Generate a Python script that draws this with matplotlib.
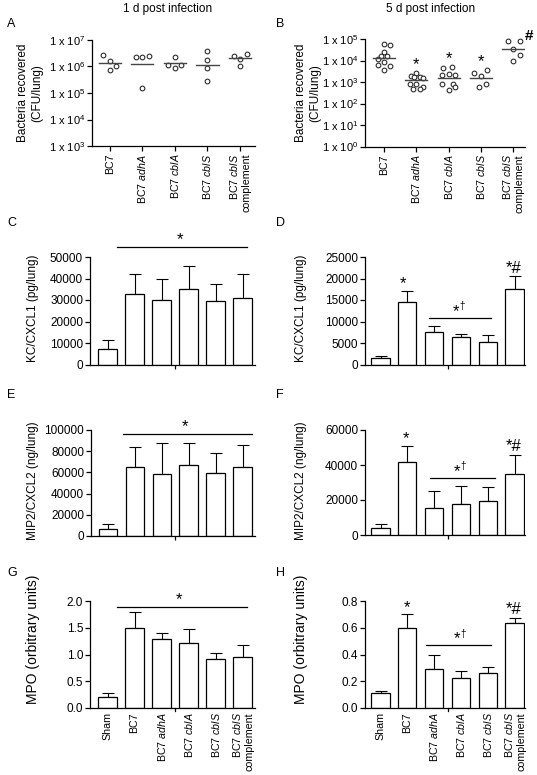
import matplotlib
matplotlib.use("Agg")
import matplotlib.pyplot as plt
import numpy as np

plt.rcParams['font.family'] = ['Liberation Sans', 'DejaVu Sans']
plt.rcParams['mathtext.fontset'] = 'custom'
plt.rcParams['mathtext.rm'] = 'Liberation Sans'
plt.rcParams['mathtext.it'] = 'Liberation Sans:italic'
plt.rcParams['mathtext.bf'] = 'Liberation Sans:bold'

# ---------------- data ----------------
strains = ["BC7", "BC7 $\\mathit{adhA}$", "BC7 $\\mathit{cblA}$", "BC7 $\\mathit{cblS}$",
           "BC7 $\\mathit{cblS}$\ncomplement"]
groups = ["Sham"] + strains

# Panel A: CFU/lung, 1 d
cfu1_bc7 = [2.7e6, 1.65e6, 7.4e5, 1.05e6]
cfu1_adhA = [2.3e6, 2.2e6, 2.6e6, 1.5e5]
cfu1_cblA = [1.17e6, 2.2e6, 8.5e5, 1.17e6]
cfu1_cblS = [3.85e6, 1.7e6, 8.5e5, 2.9e5]
cfu1_comp = [2.6e6, 1.96e6, 3.0e6, 1.05e6]
cfu1_mean = [1.35e6, 1.2e6, 1.3e6, 1.17e6, 2.1e6]

# Panel B: CFU/lung, 5 d
cfu5_bc7 = [5.9e4, 5.1e4, 2.6e4, 1.58e4, 1.7e4, 1.2e4, 8.3e3, 6.5e3, 5.5e3, 3.8e3]
cfu5_adhA = [2.6e3, 1.85e3, 1.7e3, 1.7e3, 1.6e3, 830, 830, 575, 490, 490]
cfu5_cblA = [4.4e3, 4.9e3, 2.2e3, 2.4e3, 2.2e3, 830, 830, 410, 580]
cfu5_cblS = [2.7e3, 2.0e3, 3.8e3, 580, 780]
cfu5_comp = [7.8e4, 8.5e4, 3.5e4, 1.8e4, 1.0e4]
cfu5_mean = [1.33e4, 1.3e3, 1.6e3, 1.6e3, 3.25e4]

# Panel C / D: KC/CXCL1 (pg/lung)
kc1_mean = [7000, 33000, 30000, 35000, 29500, 31000]
kc1_err = [4500, 9000, 10000, 11000, 8000, 11000]
kc5_mean = [1500, 14500, 7500, 6300, 5300, 17500]
kc5_err = [500, 2500, 1500, 900, 1500, 3000]

# Panel E / F: MIP2/CXCL2 (ng/lung)
mip1_mean = [7000, 65000, 58500, 67000, 59500, 65000]
mip1_err = [4000, 19000, 29500, 21000, 18500, 21000]
mip5_mean = [4000, 42000, 15500, 17500, 19500, 35000]
mip5_err = [2500, 9000, 9500, 10500, 8000, 11000]

# Panel G / H: MPO (arbitrary units)
mpo1_mean = [0.21, 1.49, 1.29, 1.22, 0.92, 0.96]
mpo1_err = [0.07, 0.31, 0.11, 0.26, 0.10, 0.21]
mpo5_mean = [0.11, 0.595, 0.295, 0.225, 0.258, 0.635]
mpo5_err = [0.015, 0.105, 0.105, 0.055, 0.047, 0.035]

# ---------------- layout ----------------
W, H = 537, 775
fig = plt.figure(figsize=(W / 100, H / 100), dpi=100)

FS = 8.5
XFS = 7.7


def axpx(left, top, right, bottom):
    return fig.add_axes([left / W, 1 - bottom / H, (right - left) / W, (bottom - top) / H])


def ftext(x, y, s, **kw):
    fig.text(x / W, 1 - y / H, s, **kw)


def style(ax, ylab_fs=FS):
    for s in ("top", "right"):
        ax.spines[s].set_visible(False)
    for s in ("left", "bottom"):
        ax.spines[s].set_linewidth(0.9)
    ax.tick_params(axis="y", direction="out", length=3.5, width=0.9, labelsize=ylab_fs, pad=1.5)


def scatter_panel(ax, data, means, ylim, xlim, offsets_list):
    style(ax, 8)
    ax.set_yscale("log")
    ax.set_ylim(*ylim)
    ax.set_xlim(*xlim)
    for i, (vals, offs) in enumerate(zip(data, offsets_list)):
        xs = [i + o for o in offs]
        ax.plot(xs, vals, "o", ms=3.4, mfc="white", mec="#222222", mew=0.75, clip_on=False)
        ax.plot([i - 0.34, i + 0.34], [means[i], means[i]], color="#444444", lw=1.0)
    decs = np.arange(int(np.log10(ylim[0])), int(np.log10(ylim[1])) + 1)
    ax.set_yticks([10.0 ** d for d in decs])
    ax.set_yticklabels(["1 x 10$^{%d}$" % d for d in decs])
    ax.yaxis.set_minor_locator(matplotlib.ticker.NullLocator())
    ax.set_xticks(range(5))
    ax.set_xticklabels(strains, rotation=90, fontsize=XFS, va="top", ha="center",
                       multialignment="right")
    ax.tick_params(axis="x", direction="out", length=3.5, width=0.9, pad=2)


def bar_panel(ax, means, errs, ylim, yticks, xlim, labels=False):
    style(ax)
    x = np.arange(6)
    ax.bar(x, means, width=0.68, color="white", edgecolor="black", linewidth=0.9, zorder=2)
    ax.errorbar(x, means, yerr=[np.zeros(6), errs], fmt="none", ecolor="black",
                elinewidth=0.8, capsize=4, capthick=0.8, zorder=1)
    ax.set_ylim(*ylim)
    ax.set_xlim(*xlim)
    ax.set_yticks(yticks)
    if labels:
        ax.set_xticks(x)
        ax.set_xticklabels(groups, rotation=90, fontsize=XFS, va="top", ha="center",
                           multialignment="right")
        ax.tick_params(axis="x", length=0, pad=3)
        ax.plot([2.5, 2.5], [0, -0.025 * (ylim[1] - ylim[0])], color="black", lw=0.9,
                clip_on=False)
    else:
        ax.set_xticks([2.5])
        ax.set_xticklabels([""])
        ax.tick_params(axis="x", direction="out", length=3, width=0.9)


def sigline(ax, x0, x1, y):
    ax.plot([x0, x1], [y, y], color="black", lw=0.9, clip_on=False)


def star(ax, x, y, s="*", dagger=False):
    ax.text(x, y, s, ha="center", va="center", fontsize=12, clip_on=False)
    if dagger:
        ax.annotate("\u2020", (x, y), xytext=(4.5, 4), textcoords="offset points",
                    ha="center", va="center", fontsize=7)


# titles
ftext(168, 9, "1 d post infection", ha="center", va="center", fontsize=8.5)
ftext(431, 9, "5 d post infection", ha="center", va="center", fontsize=8.5)

# panel letters
for lab, x, y in [("A", 7, 24), ("B", 276, 24), ("C", 7, 223), ("D", 276, 223),
                  ("E", 7, 395), ("F", 276, 395), ("G", 7, 573), ("H", 276, 573)]:
    ftext(x, y, lab, ha="left", va="center", fontsize=9)

# ---- A ----
axA = axpx(92, 40, 255, 146)
offA = [[-0.2, 0, 0, 0.2], [-0.2, 0, 0.2, 0], [-0.2, 0, 0, 0.2], [0, 0, 0, 0], [-0.2, 0, 0.2, 0]]
scatter_panel(axA, [cfu1_bc7, cfu1_adhA, cfu1_cblA, cfu1_cblS, cfu1_comp], cfu1_mean,
              (1e3, 1e7), (-0.55, 4.46), offA)
ftext(30, 93, "Bacteria recovered\n(CFU/lung)", rotation=90, ha="center", va="center",
      fontsize=FS, multialignment="center")

# ---- B ----
axB = axpx(365, 39, 525, 146.5)
offB = [[0, 0.2, 0, -0.1, 0.1, -0.2, 0, -0.2, 0.2, 0],
        [0, -0.17, -0.06, 0.1, 0.2, -0.2, 0, 0.2, -0.1, 0.1],
        [-0.18, 0.12, -0.2, 0, 0.2, -0.2, 0.15, 0, 0.2],
        [-0.2, 0, 0.18, -0.05, 0.15],
        [-0.15, 0.2, 0, 0.2, 0]]
scatter_panel(axB, [cfu5_bc7, cfu5_adhA, cfu5_cblA, cfu5_cblS, cfu5_comp], cfu5_mean,
              (1, 1e5), (-0.59, 4.37), offB)
ftext(308, 93, "Bacteria recovered\n(CFU/lung)", rotation=90, ha="center", va="center",
      fontsize=FS, multialignment="center")
for i, yv in [(1, 6.5e3), (2, 1.25e4), (3, 9e3)]:
    axB.text(i, yv, "*", ha="center", va="center", fontsize=12)
axB.text(4.5, 1.35e5, "#", ha="center", va="center", fontsize=11, fontweight="bold",
         clip_on=False)

# ---- C ----
axC = axpx(90, 257, 255, 364.5)
bar_panel(axC, kc1_mean, kc1_err, (0, 50000), [0, 10000, 20000, 30000, 40000, 50000],
          (-0.65, 5.46))
sigline(axC, 0.35, 5.17, 54650)
star(axC, 2.7, 58000)
ftext(33, 308, "KC/CXCL1 (pg/lung)", rotation=90, ha="center", va="center", fontsize=FS)

# ---- D ----
axD = axpx(365, 257, 525, 364.5)
bar_panel(axD, kc5_mean, kc5_err, (0, 25000), [0, 5000, 10000, 15000, 20000, 25000],
          (-0.58, 5.39))
sigline(axD, 1.81, 4.12, 10800)
star(axD, 2.82, 12400, dagger=True)
star(axD, 0.85, 18900)
star(axD, 4.95, 22400, s="*#")
ftext(301, 308, "KC/CXCL1 (pg/lung)", rotation=90, ha="center", va="center", fontsize=FS)

# ---- E ----
axE = axpx(91, 430, 255, 536)
bar_panel(axE, mip1_mean, mip1_err, (0, 100000), [0, 20000, 40000, 60000, 80000, 100000],
          (-0.62, 5.46))
sigline(axE, 0.57, 5.35, 96200)
star(axE, 2.87, 103000)
ftext(33, 481, "MIP2/CXCL2 (ng/lung)", rotation=90, ha="center", va="center", fontsize=FS)

# ---- F ----
axF = axpx(365, 430, 525, 535)
bar_panel(axF, mip5_mean, mip5_err, (0, 60000), [0, 20000, 40000, 60000], (-0.58, 5.39))
sigline(axF, 1.85, 4.27, 32570)
star(axF, 2.85, 36000, dagger=True)
star(axF, 0.95, 55000)
star(axF, 4.97, 50800, s="*#")
ftext(301, 481, "MIP2/CXCL2 (ng/lung)", rotation=90, ha="center", va="center", fontsize=FS)

# ---- G ----
axG = axpx(90, 601, 255, 708)
bar_panel(axG, mpo1_mean, mpo1_err, (0, 2.0), [0, 0.5, 1.0, 1.5, 2.0], (-0.65, 5.46),
          labels=True)
axG.yaxis.set_major_formatter(matplotlib.ticker.FormatStrFormatter("%.1f"))
sigline(axG, 0.35, 5.17, 1.89)
star(axG, 2.65, 2.03)
ftext(33, 639, "MPO (orbitrary units)", rotation=90, ha="center", va="center", fontsize=10)

# ---- H ----
axH = axpx(365, 601, 525, 708)
bar_panel(axH, mpo5_mean, mpo5_err, (0, 0.8), [0, 0.2, 0.4, 0.6, 0.8], (-0.58, 5.39),
          labels=True)
axH.yaxis.set_major_formatter(matplotlib.ticker.FormatStrFormatter("%.1f"))
sigline(axH, 1.7, 4.12, 0.47)
star(axH, 2.85, 0.515, dagger=True)
star(axH, 1.0, 0.75)
star(axH, 4.97, 0.735, s="*#")
ftext(301, 639, "MPO (orbitrary units)", rotation=90, ha="center", va="center", fontsize=10)

fig.savefig("out.png", dpi=100)
